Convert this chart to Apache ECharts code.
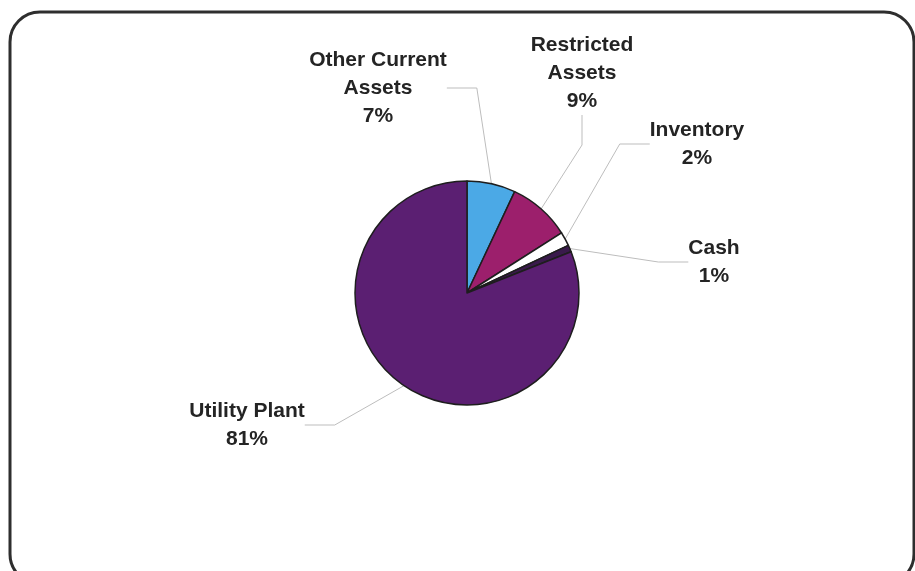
<!DOCTYPE html>
<html>
<head>
<meta charset="utf-8">
<script src="https://cdn.jsdelivr.net/npm/echarts@6/dist/echarts.min.js"></script>
<style>
html, body { margin: 0; padding: 0; background: #fff; }
#container { width: 915px; height: 571px; }
</style>
</head>
<body>
<div id="container"></div>
<script>
// 数据
var categories = ['Other Current Assets', 'Restricted Assets', 'Inventory', 'Cash', 'Utility Plant'];
var labelText = ['Other Current\nAssets', 'Restricted\nAssets', 'Inventory', 'Cash', 'Utility Plant'];
var percents = [7, 9, 2, 1, 81];
var colors = ['#4ba9e6', '#9c1f6c', '#ffffff', '#3a1a4c', '#5b1f72'];

// 标签位置
var labelPos = [[378, 88], [582, 73], [697, 144], [714, 262], [247, 425]];

var myChart = echarts.init(document.getElementById('container'));

var option = {
	animation: false,
	graphic: [{
		type: 'rect',
		shape: { x: 10, y: 12, width: 904, height: 572, r: 30 },
		style: { fill: 'none', stroke: '#2e2e2e', lineWidth: 3 },
		z: 10
	}],
	series: [{
		type: 'pie',
		center: [467, 293],
		radius: 112,
		startAngle: 90,
		clockwise: true,
		data: categories.map(function (c, i) {
			return { name: c, value: percents[i], itemStyle: { color: colors[i] } };
		}),
		itemStyle: { borderColor: '#1e1e1e', borderWidth: 1.5 },
		label: {
			show: true,
			position: 'outside',
			formatter: function (p) {
				return labelText[p.dataIndex] + '\n' + percents[p.dataIndex] + '%';
			},
			fontFamily: 'Liberation Sans',
			fontWeight: 'bold',
			fontSize: 21,
			lineHeight: 28,
			color: '#242424',
			align: 'center'
		},
		labelLine: {
			show: true,
			lineStyle: { color: '#bdbdbd', width: 1 }
		},
		labelLayout: function (params) {
			var pos = labelPos[params.dataIndex];
			return { x: pos[0], y: pos[1], align: 'center', verticalAlign: 'middle' };
		},
		emphasis: { disabled: true }
	}]
};

myChart.setOption(option);
</script>
</body>
</html>
